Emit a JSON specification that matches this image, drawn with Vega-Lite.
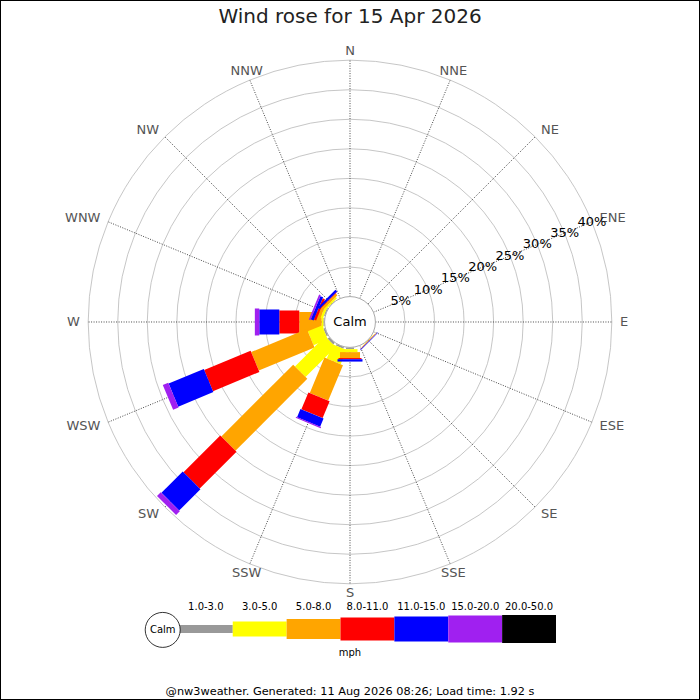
{
  "$schema": "https://vega.github.io/schema/vega-lite/v6.json",
  "width": 700,
  "height": 700,
  "autosize": {"type": "none"},
  "padding": 0,
  "title": {
    "text": "Wind rose for 15 Apr 2026",
    "fontSize": 20,
    "fontWeight": "normal",
    "font": "DejaVu Sans",
    "color": "#222222",
    "anchor": "middle",
    "frame": "group",
    "offset": -27
  },
  "datasets": {
    "dirs": [
      {"dir": "N", "deg": 0}, {"dir": "NNE", "deg": 22.5}, {"dir": "NE", "deg": 45}, {"dir": "ENE", "deg": 67.5},
      {"dir": "E", "deg": 90}, {"dir": "ESE", "deg": 112.5}, {"dir": "SE", "deg": 135}, {"dir": "SSE", "deg": 157.5},
      {"dir": "S", "deg": 180}, {"dir": "SSW", "deg": 202.5}, {"dir": "SW", "deg": 225}, {"dir": "WSW", "deg": 247.5},
      {"dir": "W", "deg": 270}, {"dir": "WNW", "deg": 292.5}, {"dir": "NW", "deg": 315}, {"dir": "NNW", "deg": 337.5}
    ],
    "rings": [{"v": 5}, {"v": 10}, {"v": 15}, {"v": 20}, {"v": 25}, {"v": 30}, {"v": 35}, {"v": 40}],
    "speeds": [
      {"speed": "1.0-3.0"}, {"speed": "3.0-5.0"}, {"speed": "5.0-8.0"}, {"speed": "8.0-11.0"},
      {"speed": "11.0-15.0"}, {"speed": "15.0-20.0"}, {"speed": "20.0-50.0"}
    ],
    "rose": [
      {"dir": "W", "speed": "1.0-3.0", "pct": 0.2},
      {"dir": "W", "speed": "3.0-5.0", "pct": 0.3},
      {"dir": "W", "speed": "5.0-8.0", "pct": 3.78},
      {"dir": "W", "speed": "8.0-11.0", "pct": 3.38},
      {"dir": "W", "speed": "11.0-15.0", "pct": 3.39},
      {"dir": "W", "speed": "15.0-20.0", "pct": 0.75},
      {"dir": "WSW", "speed": "1.0-3.0", "pct": 0.3},
      {"dir": "WSW", "speed": "3.0-5.0", "pct": 2.6},
      {"dir": "WSW", "speed": "5.0-8.0", "pct": 10.2},
      {"dir": "WSW", "speed": "8.0-11.0", "pct": 8.5},
      {"dir": "WSW", "speed": "11.0-15.0", "pct": 6.44},
      {"dir": "WSW", "speed": "15.0-20.0", "pct": 1.0},
      {"dir": "SW", "speed": "1.0-3.0", "pct": 0.4},
      {"dir": "SW", "speed": "3.0-5.0", "pct": 7.2},
      {"dir": "SW", "speed": "5.0-8.0", "pct": 17.2},
      {"dir": "SW", "speed": "8.0-11.0", "pct": 8.8},
      {"dir": "SW", "speed": "11.0-15.0", "pct": 5.1},
      {"dir": "SW", "speed": "15.0-20.0", "pct": 0.9},
      {"dir": "SSW", "speed": "1.0-3.0", "pct": 0.3},
      {"dir": "SSW", "speed": "3.0-5.0", "pct": 2.6},
      {"dir": "SSW", "speed": "5.0-8.0", "pct": 6.5},
      {"dir": "SSW", "speed": "8.0-11.0", "pct": 3.1},
      {"dir": "SSW", "speed": "11.0-15.0", "pct": 1.5},
      {"dir": "SSW", "speed": "15.0-20.0", "pct": 0.2},
      {"dir": "S", "speed": "1.0-3.0", "pct": 0.3},
      {"dir": "S", "speed": "3.0-5.0", "pct": 0.5},
      {"dir": "S", "speed": "5.0-8.0", "pct": 1.0},
      {"dir": "S", "speed": "8.0-11.0", "pct": 0.2},
      {"dir": "S", "speed": "11.0-15.0", "pct": 0.4},
      {"dir": "SE", "speed": "1.0-3.0", "pct": 0.05},
      {"dir": "SE", "speed": "3.0-5.0", "pct": 0.05},
      {"dir": "SE", "speed": "5.0-8.0", "pct": 0.1},
      {"dir": "SE", "speed": "8.0-11.0", "pct": 0.05},
      {"dir": "SE", "speed": "11.0-15.0", "pct": 0.1},
      {"dir": "WNW", "speed": "1.0-3.0", "pct": 0.2},
      {"dir": "WNW", "speed": "3.0-5.0", "pct": 0.4},
      {"dir": "WNW", "speed": "5.0-8.0", "pct": 0.5},
      {"dir": "WNW", "speed": "8.0-11.0", "pct": 0.4},
      {"dir": "WNW", "speed": "11.0-15.0", "pct": 0.5},
      {"dir": "WNW", "speed": "15.0-20.0", "pct": 0.3},
      {"dir": "NW", "speed": "1.0-3.0", "pct": 0.1},
      {"dir": "NW", "speed": "3.0-5.0", "pct": 0.3},
      {"dir": "NW", "speed": "5.0-8.0", "pct": 0.4},
      {"dir": "NW", "speed": "8.0-11.0", "pct": 0.1},
      {"dir": "NW", "speed": "11.0-15.0", "pct": 0.4}
    ]
  },
  "layer": [
    {
      "layer": [
        {
          "data": {"name": "rings"},
          "transform": [{"calculate": "datum.v + 4.3", "as": "r"}],
          "mark": {"type": "arc", "theta": 0, "theta2": 6.2832, "fillOpacity": 0, "stroke": "#b8b8b8", "strokeWidth": 0.8},
          "encoding": {
            "x": {"datum": 0, "type": "quantitative", "scale": {"domain": [-59.22, 59.22], "nice": false, "zero": false}},
            "y": {"datum": 0, "type": "quantitative", "scale": {"domain": [-63.96, 54.48], "nice": false, "zero": false}},
            "radius": {"field": "r", "type": "quantitative", "stack": null, "scale": {"type": "linear", "domain": [0, 59.22], "range": [0, 350], "nice": false, "zero": true}}
          }
        },
        {
          "data": {"name": "dirs"},
          "transform": [
            {"calculate": "datum.deg * PI / 180", "as": "a"},
            {"calculate": "4.3 * sin(datum.a)", "as": "x0"},
            {"calculate": "4.3 * cos(datum.a)", "as": "y0"},
            {"calculate": "44.3 * sin(datum.a)", "as": "x1"},
            {"calculate": "44.3 * cos(datum.a)", "as": "y1"}
          ],
          "mark": {"type": "rule", "stroke": "#333333", "strokeWidth": 0.9, "strokeDash": [1, 1.5]},
          "encoding": {
            "x": {"field": "x0", "type": "quantitative"},
            "y": {"field": "y0", "type": "quantitative"},
            "x2": {"field": "x1"},
            "y2": {"field": "y1"}
          }
        },
        {
          "data": {"name": "rose"},
          "transform": [
            {"lookup": "dir", "from": {"data": {"name": "dirs"}, "key": "dir", "fields": ["deg"]}},
            {"calculate": "indexof(['1.0-3.0','3.0-5.0','5.0-8.0','8.0-11.0','11.0-15.0','15.0-20.0','20.0-50.0'], datum.speed)", "as": "k"},
            {"window": [{"op": "sum", "field": "pct", "as": "cum"}], "groupby": ["dir"], "sort": [{"field": "k"}], "frame": [null, 0]},
            {"calculate": "datum.deg * PI / 180", "as": "a"},
            {"calculate": "(datum.cum - datum.pct + 4.3) * sin(datum.a)", "as": "x0"},
            {"calculate": "(datum.cum - datum.pct + 4.3) * cos(datum.a)", "as": "y0"},
            {"calculate": "(datum.cum + 4.3) * sin(datum.a)", "as": "x1"},
            {"calculate": "(datum.cum + 4.3) * cos(datum.a)", "as": "y1"}
          ],
          "mark": {"type": "rule", "strokeCap": "butt"},
          "encoding": {
            "x": {"field": "x0", "type": "quantitative"},
            "y": {"field": "y0", "type": "quantitative"},
            "x2": {"field": "x1"},
            "y2": {"field": "y1"},
            "color": {
              "field": "speed",
              "type": "nominal",
              "scale": {
                "domain": ["1.0-3.0", "3.0-5.0", "5.0-8.0", "8.0-11.0", "11.0-15.0", "15.0-20.0", "20.0-50.0"],
                "range": ["#999999", "#ffff00", "#ffa500", "#ff0000", "#0000ff", "#a020f0", "#000000"]
              },
              "legend": null
            },
            "strokeWidth": {
              "field": "speed",
              "type": "nominal",
              "scale": {
                "type": "ordinal",
                "domain": ["1.0-3.0", "3.0-5.0", "5.0-8.0", "8.0-11.0", "11.0-15.0", "15.0-20.0", "20.0-50.0"],
                "range": [8, 15, 20, 23, 25, 27, 28]
              },
              "legend": null
            }
          }
        },
        {
          "data": {"values": [{"label": "Calm"}]},
          "mark": {"type": "arc", "theta": 0, "theta2": 6.2832, "fill": "white", "stroke": "#aaaaaa", "strokeWidth": 1},
          "encoding": {
            "x": {"datum": 0, "type": "quantitative"},
            "y": {"datum": 0, "type": "quantitative"},
            "radius": {"datum": 4.3, "type": "quantitative", "stack": null}
          }
        },
        {
          "data": {"values": [{"label": "Calm"}]},
          "mark": {"type": "text", "fontSize": 13, "font": "DejaVu Sans", "color": "#000000", "baseline": "middle", "align": "center"},
          "encoding": {
            "x": {"datum": 0, "type": "quantitative"},
            "y": {"datum": 0, "type": "quantitative"},
            "text": {"field": "label"}
          }
        },
        {
          "data": {"name": "dirs"},
          "transform": [
            {"calculate": "datum.deg * PI / 180", "as": "a"},
            {"calculate": "45.7 * sin(datum.a)", "as": "lx"},
            {"calculate": "45.9 * cos(datum.a)", "as": "ly"}
          ],
          "mark": {
            "type": "text",
            "fontSize": 13,
            "font": "DejaVu Sans",
            "color": "#555555",
            "baseline": "middle",
            "align": {"expr": "abs(sin(datum.a)) < 0.5 ? 'center' : (datum.deg < 180 ? 'left' : 'right')"}
          },
          "encoding": {
            "x": {"field": "lx", "type": "quantitative"},
            "y": {"field": "ly", "type": "quantitative"},
            "text": {"field": "dir"}
          }
        },
        {
          "data": {"name": "rings"},
          "transform": [
            {"calculate": "(datum.v + 4.3) * sin(67.5 * PI / 180)", "as": "lx"},
            {"calculate": "(datum.v + 4.3) * cos(67.5 * PI / 180)", "as": "ly"},
            {"calculate": "datum.v + '%'", "as": "label"}
          ],
          "mark": {"type": "text", "fontSize": 13, "font": "DejaVu Sans", "color": "#000000", "baseline": "middle", "align": "center"},
          "encoding": {
            "x": {"field": "lx", "type": "quantitative"},
            "y": {"field": "ly", "type": "quantitative"},
            "text": {"field": "label"}
          }
        },
        {
          "data": {"values": [{"label": "mph"}]},
          "mark": {"type": "text", "fontSize": 10, "font": "DejaVu Sans", "color": "#000000", "baseline": "middle", "align": "center"},
          "encoding": {
            "x": {"datum": 0, "type": "quantitative"},
            "y": {"datum": -56.0, "type": "quantitative"},
            "text": {"field": "label"}
          }
        },
        {
          "data": {"values": [{"label": "@nw3weather. Generated: 11 Aug 2026 08:26; Load time: 1.92 s"}]},
          "mark": {"type": "text", "fontSize": 11.3, "font": "DejaVu Sans", "color": "#000000", "baseline": "middle", "align": "center"},
          "encoding": {
            "x": {"datum": 0, "type": "quantitative"},
            "y": {"datum": -62.6, "type": "quantitative"},
            "text": {"field": "label"}
          }
        }
      ]
    },
    {
      "layer": [
        {
          "data": {"name": "speeds"},
          "mark": {"type": "rule", "strokeCap": "butt"},
          "encoding": {
            "x": {
              "field": "speed",
              "type": "nominal",
              "bandPosition": 0,
              "scale": {
                "type": "band",
                "domain": ["Calm", "1.0-3.0", "3.0-5.0", "5.0-8.0", "8.0-11.0", "11.0-15.0", "15.0-20.0", "20.0-50.0"],
                "range": [125, 556],
                "paddingInner": 0,
                "paddingOuter": 0
              }
            },
            "x2": {"field": "speed", "bandPosition": 1},
            "y": {"datum": -51.95, "type": "quantitative"},
            "color": {"field": "speed", "type": "nominal", "legend": null},
            "strokeWidth": {
              "field": "speed",
              "type": "nominal",
              "scale": {
                "type": "ordinal",
                "domain": ["1.0-3.0", "3.0-5.0", "5.0-8.0", "8.0-11.0", "11.0-15.0", "15.0-20.0", "20.0-50.0"],
                "range": [8, 15, 20, 23, 25, 27, 28]
              },
              "legend": null
            }
          }
        },
        {
          "data": {"name": "speeds"},
          "mark": {"type": "text", "fontSize": 10, "font": "DejaVu Sans", "color": "#000000", "baseline": "middle", "align": "center"},
          "encoding": {
            "x": {"field": "speed", "type": "nominal", "bandPosition": 0.5},
            "y": {"datum": -48.2, "type": "quantitative"},
            "text": {"field": "speed"}
          }
        },
        {
          "data": {"values": [{"label": "Calm"}]},
          "mark": {"type": "arc", "theta": 0, "theta2": 6.2832, "fill": "white", "stroke": "#000000", "strokeWidth": 0.8},
          "encoding": {
            "x": {"datum": "Calm", "type": "nominal", "bandPosition": 0.7},
            "y": {"datum": -52.1, "type": "quantitative"},
            "radius": {"datum": 2.96, "type": "quantitative", "stack": null}
          }
        },
        {
          "data": {"values": [{"label": "Calm"}]},
          "mark": {"type": "text", "fontSize": 10, "font": "DejaVu Sans", "color": "#000000", "baseline": "middle", "align": "center"},
          "encoding": {
            "x": {"datum": "Calm", "type": "nominal", "bandPosition": 0.7},
            "y": {"datum": -52.1, "type": "quantitative"},
            "text": {"field": "label"}
          }
        }
      ]
    }
  ],
  "resolve": {"scale": {"x": "independent"}},
  "config": {
    "view": {"stroke": "#000000", "strokeWidth": 2},
    "axis": {"disable": true},
    "legend": {"disable": true},
    "font": "DejaVu Sans"
  }
}
